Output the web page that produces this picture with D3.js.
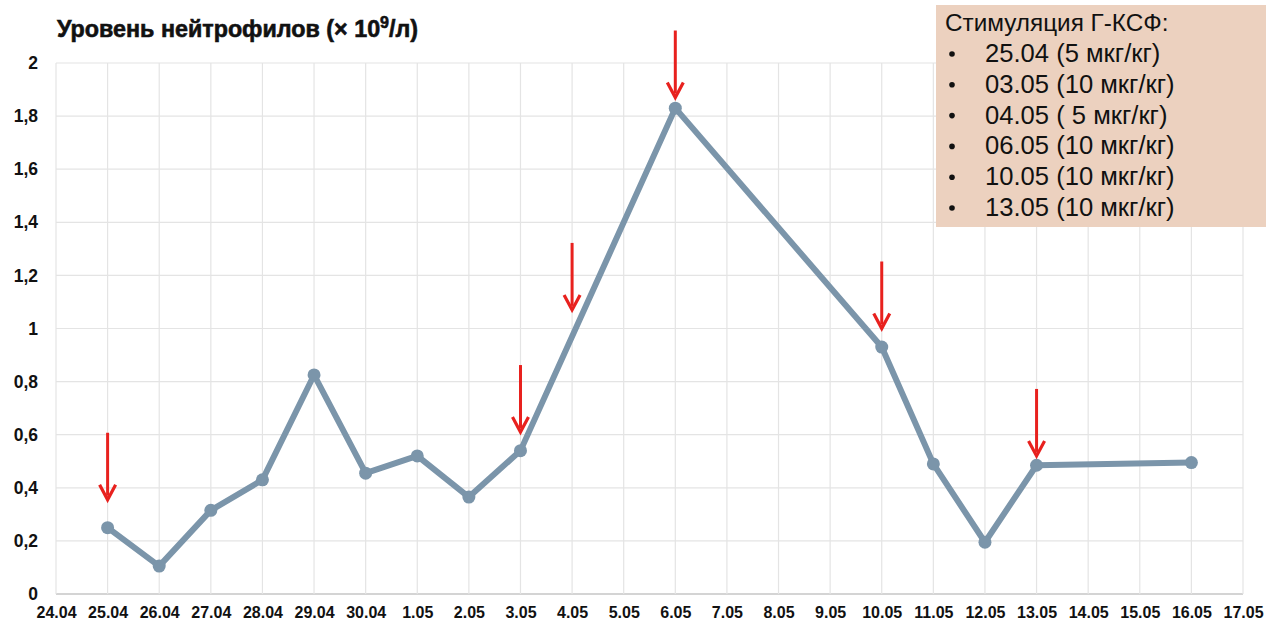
<!DOCTYPE html>
<html><head><meta charset="utf-8">
<script src="https://cdn.jsdelivr.net/npm/d3@7"></script>
<style>html,body{margin:0;padding:0;background:#fff;}svg{display:block;font-family:"Liberation Sans",Arial,sans-serif;}</style>
</head><body>
<svg id="c" width="1266" height="622"></svg>
<script>
const categories = ["24.04","25.04","26.04","27.04","28.04","29.04","30.04","1.05","2.05","3.05","4.05","5.05","6.05","7.05","8.05","9.05","10.05","11.05","12.05","13.05","14.05","15.05","16.05","17.05"];
const pointDates = ["25.04","26.04","27.04","28.04","29.04","30.04","1.05","2.05","3.05","6.05","10.05","11.05","12.05","13.05","16.05"];
const pointValues = [0.25,0.105,0.315,0.43,0.825,0.455,0.52,0.365,0.54,1.83,0.93,0.49,0.195,0.485,0.495];
const arrowDates = ["25.04","3.05","4.05","6.05","10.05","13.05"];
const arrowTips = [0.355,0.61,1.07,1.87,1.0,0.52];
const yTicks = [0,0.2,0.4,0.6,0.8,1,1.2,1.4,1.6,1.8,2];
const legendTitle = "Стимуляция Г-КСФ:";
const legendItems = ["25.04 (5 мкг/кг)","03.05 (10 мкг/кг)","04.05 ( 5 мкг/кг)","06.05 (10 мкг/кг)","10.05 (10 мкг/кг)","13.05 (10 мкг/кг)"];

const svg = d3.select("#c");
const x = d3.scalePoint().domain(categories).range([56,1243]);
const y = d3.scaleLinear().domain([0,2]).range([594,63]);
const fmt = v => String(v).replace(".",",");

// grid
svg.append("g").selectAll("line").data(yTicks).join("line")
  .attr("x1",56).attr("x2",1243).attr("y1",d=>y(d)).attr("y2",d=>y(d))
  .attr("stroke",d=>d===0?"#d4d4d4":"#e4e4e4").attr("stroke-width",d=>d===0?2:1.2);
svg.append("g").selectAll("line").data(categories).join("line")
  .attr("x1",d=>x(d)).attr("x2",d=>x(d)).attr("y1",y(2)).attr("y2",y(0))
  .attr("stroke","#e4e4e4").attr("stroke-width",1.2);

// y axis labels
const yAxis = d3.axisLeft(y).tickValues(yTicks).tickFormat(fmt).tickSize(0).tickPadding(0);
const gy = svg.append("g").attr("transform","translate(38,0)").call(yAxis);
gy.select(".domain").remove();
gy.selectAll("text").attr("font-size",17.5).attr("font-weight","bold").attr("fill","#111").attr("font-family","Liberation Sans, Arial");

// x axis labels
const xAxis = d3.axisBottom(x).tickSize(0).tickPadding(0);
const gx = svg.append("g").attr("transform","translate(0,607)").call(xAxis);
gx.select(".domain").remove();
gx.selectAll("text").attr("font-size",16).attr("font-weight","bold").attr("fill","#111").attr("font-family","Liberation Sans, Arial");

// line
const line = d3.line().x((d,i)=>x(pointDates[i])).y(d=>y(d));
svg.append("path").datum(pointValues).attr("d",line).attr("fill","none")
  .attr("stroke","#7b95aa").attr("stroke-width",6).attr("stroke-linejoin","round");
svg.append("g").selectAll("circle").data(pointValues).join("circle")
  .attr("cx",(d,i)=>x(pointDates[i])).attr("cy",d=>y(d)).attr("r",6.5).attr("fill","#7b95aa");

// arrows
const ag = svg.append("g");
arrowDates.forEach((dt,i)=>{
  const ax = x(dt), ty = y(arrowTips[i]);
  ag.append("line").attr("x1",ax).attr("x2",ax).attr("y1",ty-67).attr("y2",ty-4)
    .attr("stroke","#e8211e").attr("stroke-width",3);
  ag.append("path").attr("d",`M${ax-8},${ty-15} L${ax},${ty} L${ax+8},${ty-15}`)
    .attr("fill","none").attr("stroke","#e8211e").attr("stroke-width",3.2).attr("stroke-linejoin","miter");
});

// title
const title = svg.append("text").attr("x",57).attr("y",37).attr("font-size",23.3).attr("font-weight","bold")
  .attr("fill","#111").attr("stroke","#111").attr("stroke-width",0.6);
title.append("tspan").text("Уровень нейтрофилов (× 10");
title.append("tspan").attr("dy",-9).attr("font-size",16).text("9");
title.append("tspan").attr("dy",9).text("/л)");

// legend
svg.append("rect").attr("x",936).attr("y",5).attr("width",330).attr("height",222).attr("fill","#ecd1bf");
svg.append("text").attr("x",945).attr("y",31).attr("font-size",24.3).attr("fill","#111").text(legendTitle);
const lg = svg.append("g");
legendItems.forEach((s,i)=>{
  const yy = 62 + i*30.8;
  lg.append("circle").attr("cx",952).attr("cy",yy-8).attr("r",2.8).attr("fill","#111");
  lg.append("text").attr("x",985).attr("y",yy).attr("font-size",25.6).attr("fill","#111").text(s);
});
</script>
</body></html>
